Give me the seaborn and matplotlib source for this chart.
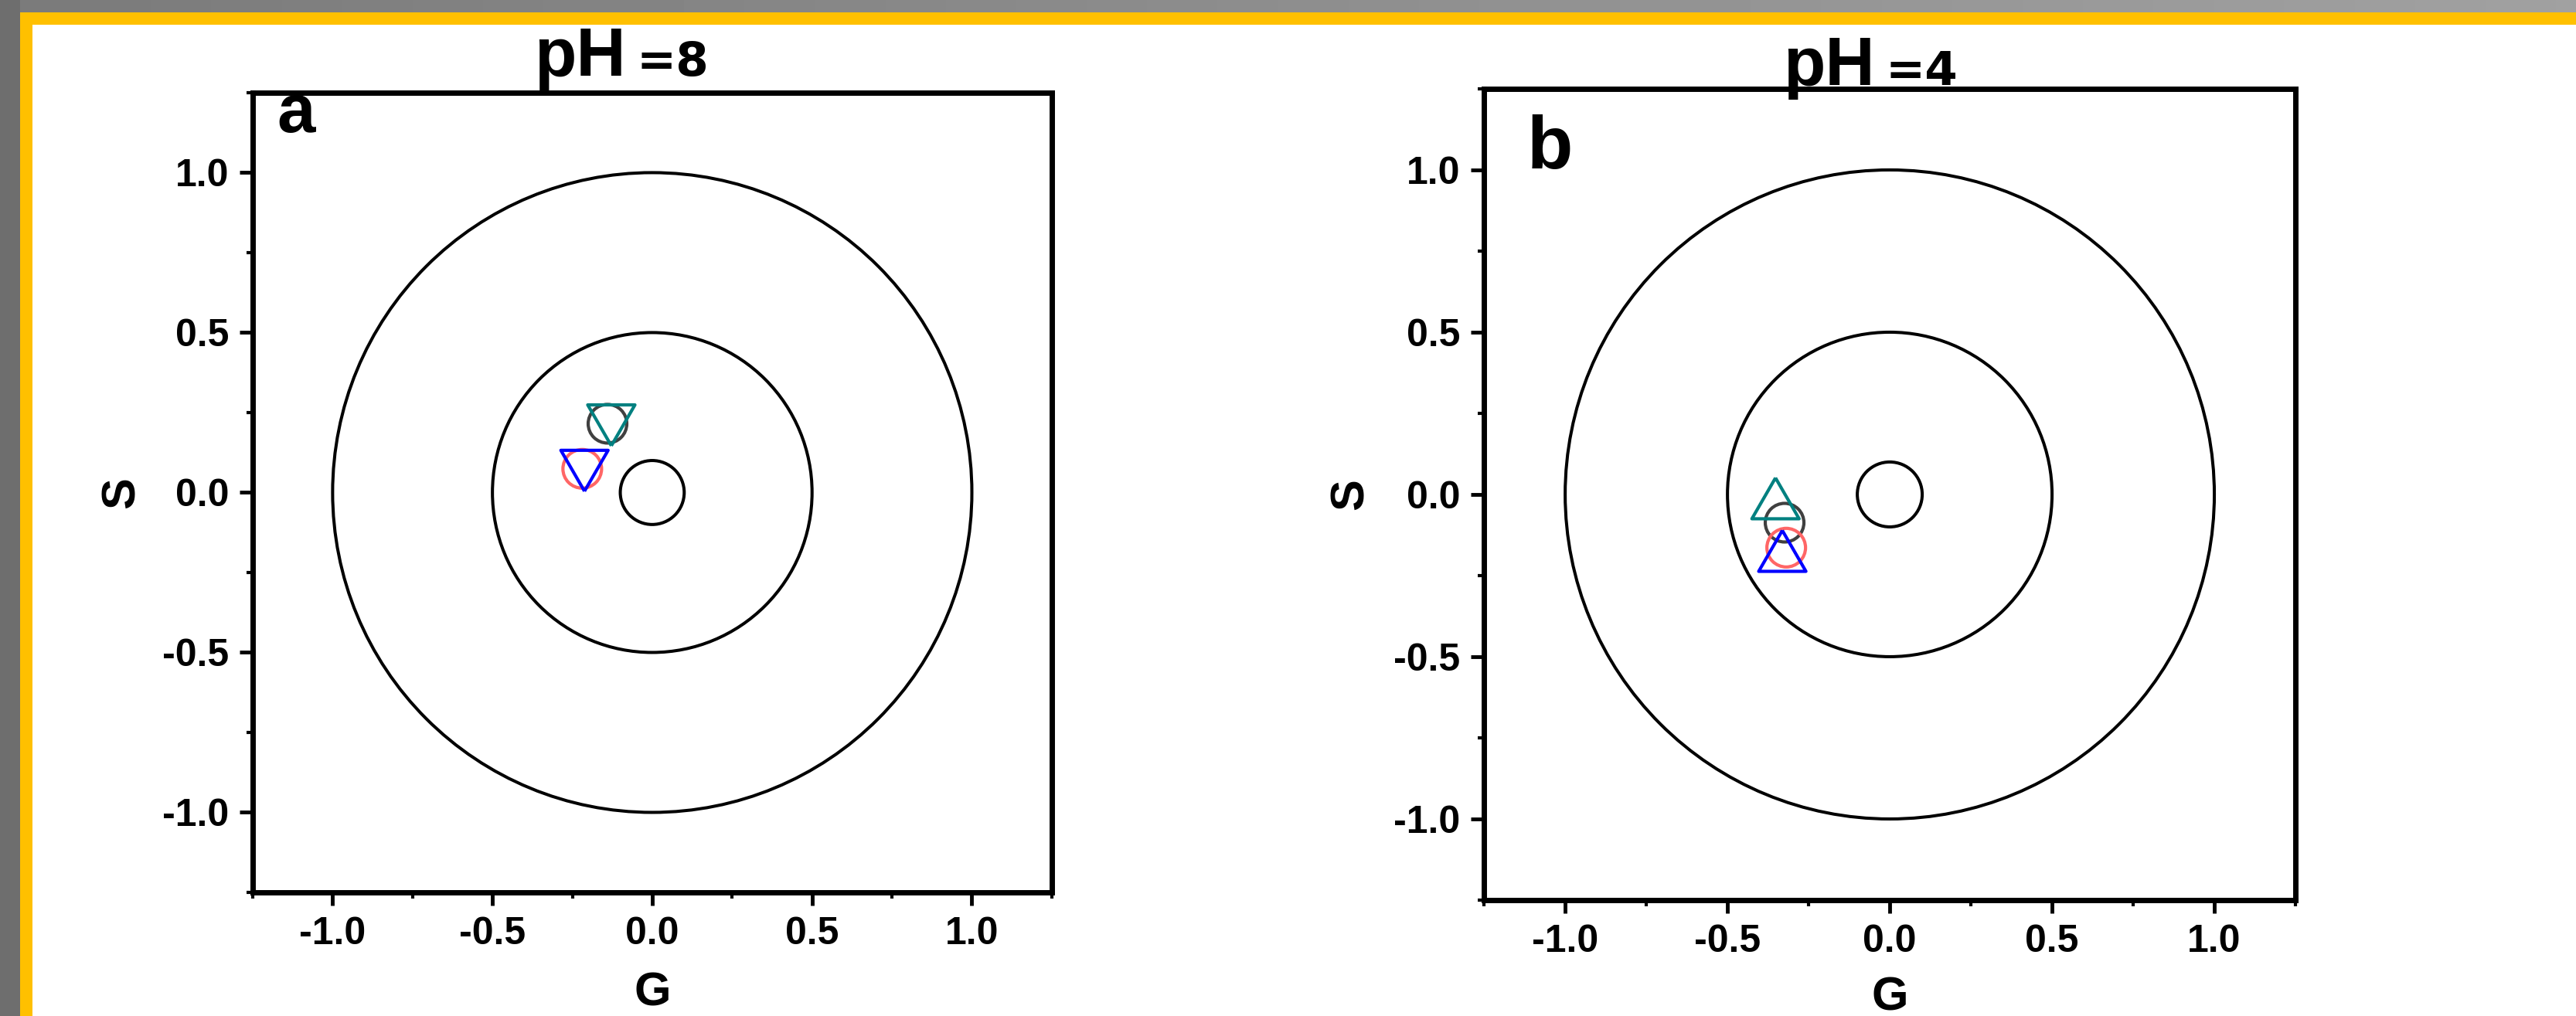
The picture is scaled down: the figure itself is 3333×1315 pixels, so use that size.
import matplotlib
matplotlib.use("Agg")
import matplotlib.pyplot as plt
import numpy as np
import seaborn as sns
from matplotlib.patches import Circle, Rectangle
from matplotlib.ticker import MultipleLocator

# phasor coordinates (G, S)
titles = ["pH", "pH"]
title_vals = ["=8", "=4"]
panel_tags = ["a", "b"]

g_ph8 = [-0.140, -0.128, -0.219, -0.212]
s_ph8 = [0.215, 0.210, 0.074, 0.068]
g_ph4 = [-0.324, -0.352, -0.319, -0.331]
s_ph4 = [-0.087, -0.012, -0.164, -0.174]

colors = ["#404040", "#008080", "#FF6666", "#0000FF"]
shapes_ph8 = ["o", "down", "o", "down"]
shapes_ph4 = ["o", "up", "o", "up"]

ring_radii = [0.1, 0.5, 1.0]
ticks = [-1.0, -0.5, 0.0, 0.5, 1.0]

sns.set_theme(style="ticks")
plt.rcParams["font.family"] = ["Liberation Sans", "DejaVu Sans"]
plt.rcParams["font.weight"] = "bold"
plt.rcParams["text.color"] = "black"
plt.rcParams["axes.labelcolor"] = "black"
plt.rcParams["xtick.color"] = "black"
plt.rcParams["ytick.color"] = "black"

W, H = 3333, 1315
fig = plt.figure(figsize=(W / 100, H / 100), dpi=100)
fig.patch.set_facecolor("white")

# frame around the picture
bg = fig.add_axes([0, 0, 1, 1], zorder=-10)
bg.set_xlim(0, W)
bg.set_ylim(H, 0)
bg.axis("off")
grad = np.linspace(0.48, 0.63, 256).reshape(1, -1)
bg.imshow(grad, extent=[0, W, 16, 0], cmap="gray", vmin=0, vmax=1, aspect="auto")
bg.add_patch(Rectangle((0, 0), 26, H, color="#6e6e6e", lw=0))
bg.add_patch(Rectangle((26, 16), W - 26, 16, color="#FFC000", lw=0))
bg.add_patch(Rectangle((26, 16), 16, H - 16, color="#FFC000", lw=0))

up = [(0, 0.866), (-1, -0.866), (1, -0.866), (0, 0.866)]
down = [(0, -0.866), (-1, 0.866), (1, 0.866), (0, -0.866)]

panels = [
    dict(rect=[0.0981, 0.1217, 0.3102, 0.7871], g=g_ph8, s=s_ph8, shapes=shapes_ph8,
         title_x=(0.352, 0.4800), title_y=1.0213, tag_xy=(0.030, 0.9507), tag_size=64,
         xl_y=-0.0995, yl_x=-0.136),
    dict(rect=[0.5761, 0.1141, 0.3150, 0.7985], g=g_ph4, s=s_ph4, shapes=shapes_ph4,
         title_x=(0.3686, 0.4950), title_y=1.0048, tag_xy=(0.0533, 0.9019), tag_size=70,
         xl_y=-0.094, yl_x=-0.137),
]

for i, p in enumerate(panels):
    ax = fig.add_axes(p["rect"])
    ax.set_facecolor("white")
    for r in ring_radii:
        ax.add_patch(Circle((0, 0), r, fill=False, ec="black", lw=2.9, zorder=2))

    for gx, sy, c, shp in zip(p["g"], p["s"], colors, p["shapes"]):
        if shp == "o":
            sns.scatterplot(x=[gx], y=[sy], marker="o", s=36 ** 2, facecolor="none",
                            edgecolor=c, linewidth=3.0, ax=ax, zorder=3)
        else:
            sns.scatterplot(x=[gx], y=[sy], marker=up if shp == "up" else down,
                            s=44 ** 2, facecolor="none", edgecolor=c, linewidth=3.0,
                            ax=ax, zorder=4)

    ax.set_xlim(-1.25, 1.25)
    ax.set_ylim(-1.25, 1.25)
    ax.set_xticks(ticks)
    ax.set_yticks(ticks)
    ax.set_xticklabels([f"{t:.1f}" for t in ticks])
    ax.set_yticklabels([f"{t:.1f}" for t in ticks])
    ax.xaxis.set_minor_locator(MultipleLocator(0.25))
    ax.yaxis.set_minor_locator(MultipleLocator(0.25))
    ax.tick_params(which="major", direction="out", length=12, width=3.5, pad=10,
                   labelsize=36, top=False, right=False, color="black",
                   labelcolor="black")
    ax.tick_params(which="minor", direction="out", length=6, width=3.0,
                   top=False, right=False, color="black")
    for lab in ax.get_xticklabels() + ax.get_yticklabels():
        lab.set_fontweight("bold")
    for sp in ax.spines.values():
        sp.set_linewidth(5)
        sp.set_color("black")
        sp.set_visible(True)

    ax.set_xlabel("G", fontsize=44, fontweight="bold", color="black")
    ax.set_ylabel("S", fontsize=44, fontweight="bold", color="black")
    ax.xaxis.set_label_coords(0.5, p["xl_y"])
    ax.yaxis.set_label_coords(p["yl_x"], 0.5)

    ax.text(p["title_x"][0], p["title_y"], titles[i], transform=ax.transAxes,
            fontsize=64, fontweight="bold", ha="left", va="baseline", clip_on=False,
            color="black")
    ax.text(p["title_x"][1], p["title_y"], title_vals[i], transform=ax.transAxes,
            fontsize=44, fontweight="bold", ha="left", va="baseline", clip_on=False,
            color="black", family=["DejaVu Sans"])
    ax.text(p["tag_xy"][0], p["tag_xy"][1], panel_tags[i], transform=ax.transAxes,
            fontsize=p["tag_size"], fontweight="bold", ha="left", va="baseline",
            color="black")

fig.savefig("out.png", dpi=100)
